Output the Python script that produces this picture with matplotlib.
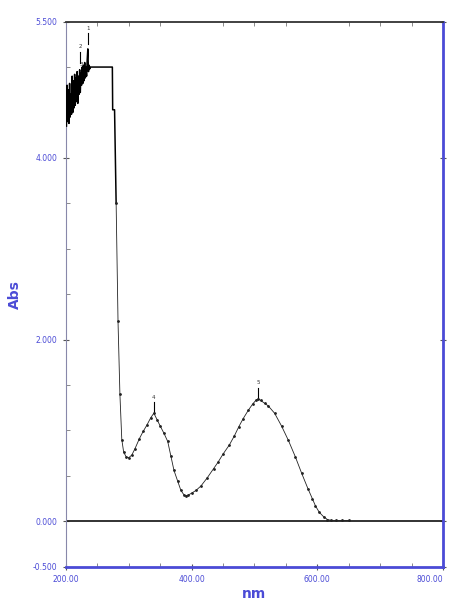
import numpy as np
import matplotlib.pyplot as plt

nm_ruido = list(range(201, 241))
abs_ruido = [4.35, 4.80, 4.40, 4.75, 4.38, 4.82, 4.45, 4.70, 4.48, 4.90,
             4.50, 4.85, 4.55, 4.92, 4.58, 4.88, 4.62, 4.95, 4.60, 4.90,
             4.70, 4.97, 4.72, 4.93, 4.80, 5.00, 4.82, 5.02, 4.85, 5.05,
             4.88, 5.00, 4.90, 5.08, 5.20, 4.95, 5.02, 4.98, 5.00, 5.00]

nm_resto = [245, 250, 260, 270, 274, 274.5, 277.5, 280, 283, 286, 289, 292,
            296, 300, 305, 310, 317, 323, 329, 335, 340, 345, 350, 356, 362,
            367, 372, 378, 383, 388, 391, 395, 400, 407, 415, 425, 435, 442,
            450, 460, 468, 475, 482, 490, 497, 502, 506, 510, 516, 522, 532,
            543, 554, 565, 575, 585, 592, 597, 603, 610, 616, 622, 630, 640, 650]
abs_resto = [5.0, 5.0, 5.0, 5.0, 5.0, 4.53, 4.53, 3.5, 2.2, 1.4, 0.9, 0.76,
             0.71, 0.70, 0.73, 0.80, 0.91, 0.99, 1.06, 1.14, 1.19, 1.12, 1.05,
             0.97, 0.88, 0.72, 0.56, 0.44, 0.34, 0.29, 0.28, 0.29, 0.31, 0.34,
             0.39, 0.48, 0.58, 0.65, 0.74, 0.84, 0.94, 1.04, 1.13, 1.22, 1.29,
             1.33, 1.35, 1.33, 1.30, 1.27, 1.19, 1.05, 0.89, 0.71, 0.53, 0.36,
             0.25, 0.17, 0.10, 0.05, 0.02, 0.01, 0.01, 0.01, 0.01]

# picos marcados
picos_nm = [223, 224, 235, 340, 506]
picos_abs = [5.05, 4.85, 5.25, 1.19, 1.35]
picos_txt = ["2", "3", "1", "4", "5"]

x_ticks = [200, 400, 600, 800]
x_labels = ["200.00", "400.00", "600.00", "800.00"]
y_ticks = [-0.5, 0, 2, 4, 5.5]
y_labels = ["-0.500", "0.000", "2.000", "4.000", "5.500"]

azul = "#4b4bd6"

nm = np.array(nm_ruido + nm_resto, dtype=float)
absb = np.array(abs_ruido + abs_resto)
n0 = len(nm_ruido) + 7

fig = plt.figure(figsize=(4.54, 6.01), dpi=100)
ax = fig.add_axes([0.145, 0.057, 0.831, 0.907])

ax.axhline(0, color="#222222", lw=1.3, zorder=2)
ax.plot(nm[:n0 + 1], absb[:n0 + 1], color="black", lw=1.1, zorder=3)
ax.plot(nm[n0:], absb[n0:], color="#222222", lw=0.6,
        marker="o", ms=1.0, zorder=3)

for px, py, t in zip(picos_nm, picos_abs, picos_txt):
    ax.plot([px, px], [py, py + 0.12], color="black", lw=0.8)
    ax.text(px, py + 0.15, t, fontsize=4, ha="center", va="bottom", color="#333333")

ax.set_xlim(200, 800)
ax.set_ylim(-0.5, 5.5)
ax.set_xticks(x_ticks)
ax.set_xticklabels(x_labels)
ax.set_yticks(y_ticks)
ax.set_yticklabels(y_labels)
ax.set_xticks(np.arange(200, 801, 50), minor=True)
ax.set_yticks(np.arange(-0.5, 5.51, 0.5), minor=True)
ax.get_xticklabels()[-1].set_ha("right")

ax.tick_params(axis="both", which="major", labelsize=5.5, labelcolor=azul,
               color="#555555", direction="inout", length=5, width=0.8)
ax.tick_params(axis="both", which="minor", color="#777777", direction="in",
               length=3, width=0.6)
ax.tick_params(axis="y", right=True, which="major")
ax.tick_params(axis="x", top=True, which="minor")

ax.spines["left"].set_color("#8888aa")
ax.spines["left"].set_linewidth(0.8)
ax.spines["bottom"].set_color(azul)
ax.spines["bottom"].set_linewidth(2)
ax.spines["right"].set_color(azul)
ax.spines["right"].set_linewidth(2)
ax.spines["top"].set_color("#333333")
ax.spines["top"].set_linewidth(1.3)

ax.set_ylabel("Abs", color=azul, fontsize=10, fontweight="bold", labelpad=8)
ax.set_xlabel("nm", color=azul, fontsize=10, fontweight="bold", labelpad=2)

plt.savefig("out.png", dpi=100)
